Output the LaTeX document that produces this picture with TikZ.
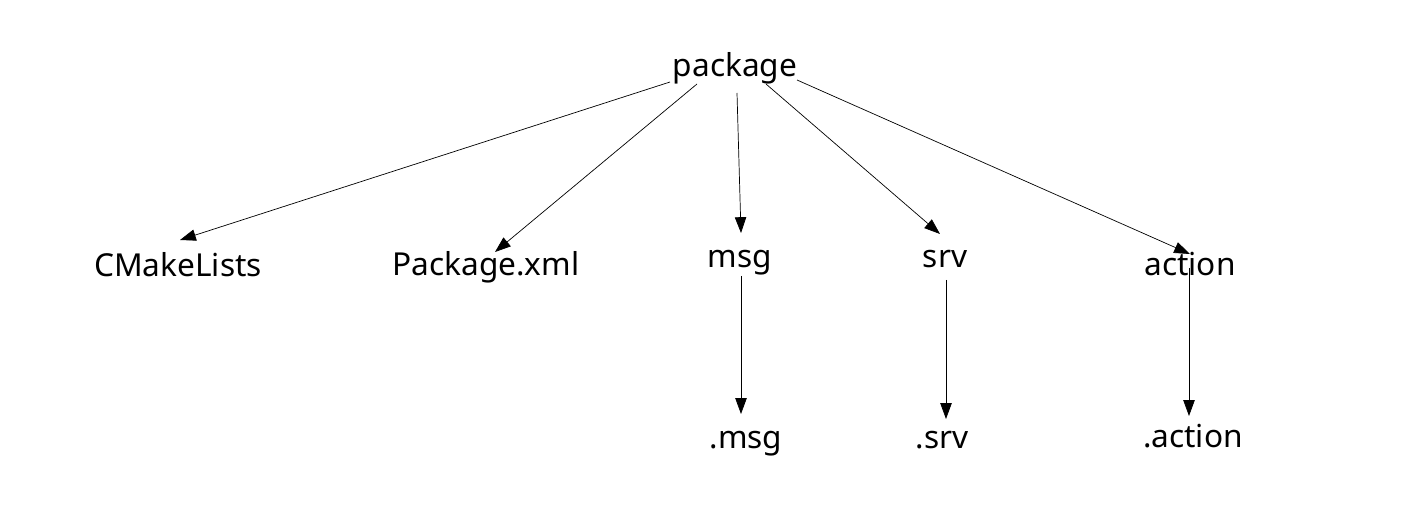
\documentclass[tikz,border=0pt]{standalone}
\usepackage{fontspec}
\setmainfont{Noto Sans}
\usetikzlibrary{arrows.meta}

\begin{document}
\begin{tikzpicture}[
        x=0.02cm, y=-0.02cm,
        item/.style={inner sep=1pt, anchor=base, font=\fontsize{18}{20}\selectfont},
        edge/.style={-{Triangle[length=9pt,width=6.5pt]}, thin},
    ]
    \useasboundingbox (0,0) rectangle (1424,520);

    % Raiz
    \node[item] (pkg) at (735,77) {package};

    % Primeiro nivel
    \node[item] (cmake) at (178,277) {CMakeLists};
    \node[item] (pxml) at (486,276) {Package.xml};
    \node[item] (msg) at (740,268) {msg};
    \node[item] (srv) at (945,268) {srv};
    \node[item] (action) at (1190,276) {action};

    % Segundo nivel
    \node[item] (msgf) at (746,448) {.msg};
    \node[item] (srvf) at (942,448) {.srv};
    \node[item] (actionf) at (1193,447) {.action};

    % Saidas das setas
    \coordinate (s1) at (670,82);
    \coordinate (s2) at (697,84);
    \coordinate (s3) at (737,93);
    \coordinate (s4) at (766,84);
    \coordinate (s5) at (797,80);
    \coordinate (t1) at (741,276);
    \coordinate (t2) at (946,280);
    \coordinate (t3) at (1189,268);

    % Pontas das setas
    \coordinate (a1) at (180,240);
    \coordinate (a2) at (495,252);
    \coordinate (a3) at (741,233);
    \coordinate (a4) at (940,234);
    \coordinate (a5) at (1190,254);
    \coordinate (b1) at (741,414);
    \coordinate (b2) at (946,419);
    \coordinate (b3) at (1189,416);

    % Setas da raiz
    \draw[edge] (s1) -- (a1);
    \draw[edge] (s2) -- (a2);
    \draw[edge] (s3) -- (a3);
    \draw[edge] (s4) -- (a4);
    \draw[edge] (s5) -- (a5);

    % Setas para os arquivos
    \draw[edge] (t1) -- (b1);
    \draw[edge] (t2) -- (b2);
    \draw[edge] (t3) -- (b3);

\end{tikzpicture}
\end{document}
